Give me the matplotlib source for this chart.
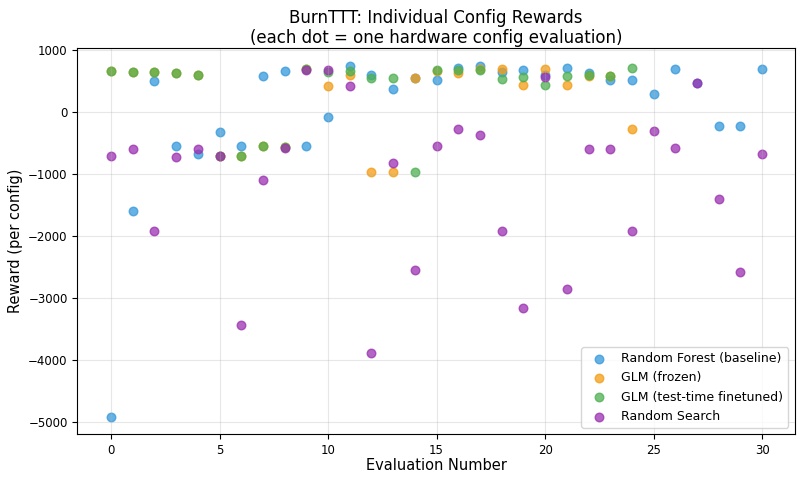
import matplotlib
matplotlib.use('Agg')
import matplotlib.pyplot as plt

# rewards per evaluation
rf_evals = list(range(31))
rf_rewards = [-4910, -1600, 511, -548, -667, -317, -548, 586, 661, -548,
              -75, 742, 607, 376, 554, 516, 715, 747, 650, 677,
              597, 720, 640, 527, 527, 301, 704, 473, -215, -215, 693]

glm_evals = list(range(25))
glm_frozen = [666, 650, 650, 634, 597, -699, -699, -548, -560, 700,
              419, 597, -968, -968, 554, 660, 640, 693, 693, 447,
              693, 447, 590, 590, -269]
glm_finetuned = [666, 650, 650, 634, 597, -699, -699, -548, -560, 704,
                 650, 661, 554, 554, -968, 683, 683, 677, 543, 570,
                 435, 580, 597, 586, 715]

rs_evals = list(range(31))
rs_rewards = [-699, -591, -1914, -720, -591, -699, -3425, -1097, -580, 688,
              688, 419, -3876, -812, -2537, -548, -269, -371, -1914, -3156,
              570, -2850, -591, -591, -1914, -296, -580, 473, -1392, -2580, -667]

fig = plt.figure(figsize=(8.06, 4.84), dpi=100)
ax = fig.add_axes([0.096, 0.103, 0.89, 0.797])

ax.scatter(rf_evals, rf_rewards, s=38, color='#3498db', alpha=0.75, label='Random Forest (baseline)')
ax.scatter(glm_evals, glm_frozen, s=38, color='#f39c12', alpha=0.75, label='GLM (frozen)')
ax.scatter(glm_evals, glm_finetuned, s=38, color='#4caf50', alpha=0.75, label='GLM (test-time finetuned)')
ax.scatter(rs_evals, rs_rewards, s=38, color='#9b30b0', alpha=0.75, label='Random Search')

ax.set_xlim(-1.55, 31.5)
ax.set_xlabel('Evaluation Number', fontsize=10.5, labelpad=1)
ax.set_ylabel('Reward (per config)', fontsize=10.5)
ax.set_title('BurnTTT: Individual Config Rewards\n(each dot = one hardware config evaluation)',
             fontsize=12, pad=4, linespacing=1.1)
ax.tick_params(labelsize=8.5)
ax.grid(True, alpha=0.3)
ax.legend(loc='lower right', fontsize=9)

fig.savefig('out.png', dpi=100)
